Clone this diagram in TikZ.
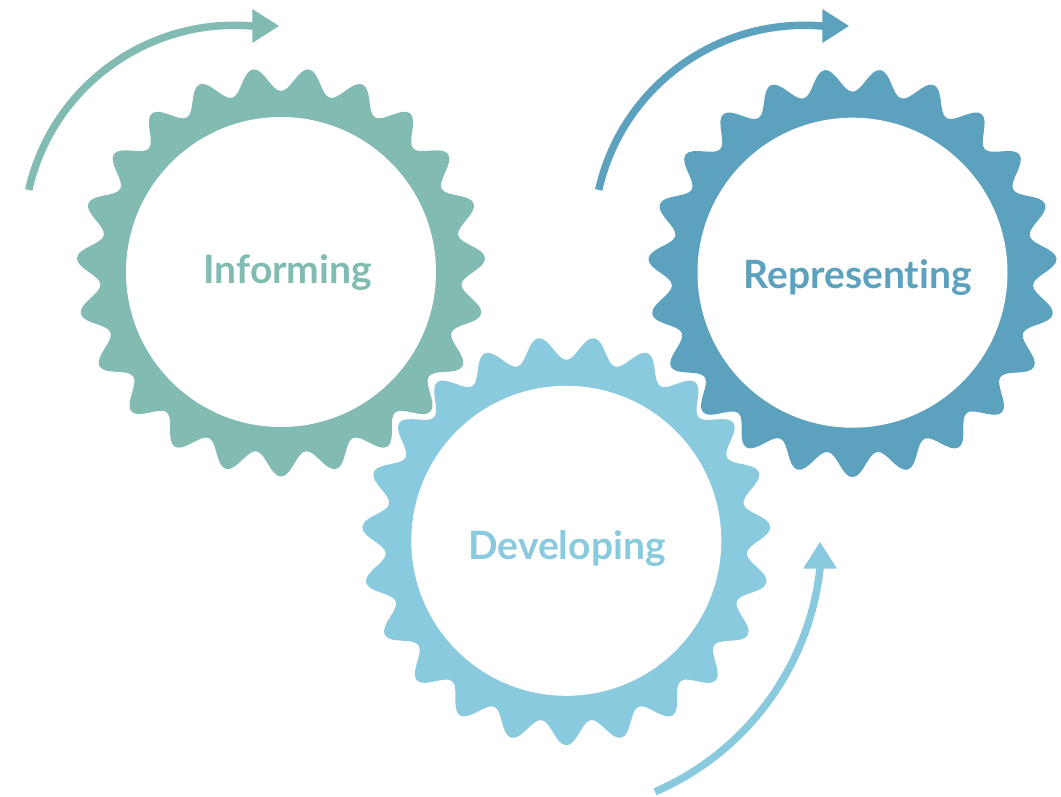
\documentclass[tikz,border=0pt]{standalone}
\usepackage{fontspec}
\setmainfont{Lato}[Ligatures=NoCommon]
\usetikzlibrary{calc,arrows.meta}

\definecolor{informcol}{RGB}{130,187,177}
\definecolor{developcol}{RGB}{138,202,222}
\definecolor{representcol}{RGB}{92,162,191}

\tikzset{
  gearlabel/.style={font=\fontsize{39}{42}\selectfont\bfseries, anchor=base, inner sep=0pt},
  turnarrow/.style={line width=7.5pt, -{Triangle[length=27pt,width=32pt]}},
}

% gear with 23 teeth round a named centre
\newcommand{\drawgear}[2]{%
  \begin{scope}[shift={(#1)}]
    \fill[#2] ({90-360/46}:181)
      \foreach \k [evaluate=\k as \c using 90+\k*360/23] in {0,...,22} {
        .. controls ({\c-4.9}:181) and ({\c-3}:204.5) .. (\c:204.5)
        .. controls ({\c+3}:204.5) and ({\c+4.9}:181) .. ({\c+360/46}:181)
      } -- cycle;
    \fill[white] (0,0) circle[radius=155];
  \end{scope}}

\begin{document}
\begin{tikzpicture}[x=1pt,y=-1pt]
  \useasboundingbox (0,0) rectangle (1061,797);

  \coordinate (informC) at (281,272);
  \coordinate (developC) at (566.3,540.8);
  \coordinate (representC) at (852.5,272.7);

  \drawgear{informC}{informcol}
  \drawgear{representC}{representcol}
  \drawgear{developC}{developcol}

  \node[gearlabel, text=informcol] (inform) at (287.8,283) {Informing};
  \node[gearlabel, text=developcol] (develop) at (567,559.3) {Developing};
  \node[gearlabel, text=representcol] (represent) at (857.7,288.3) {Representing};

  % turning arrows
  \coordinate (informS) at (28.7,189.9);
  \coordinate (informE) at (279.3,26);
  \draw[turnarrow, informcol] (informS) arc[start angle=192.7, end angle=274.7, radius=211] -- (informE);

  \coordinate (representS) at (598.7,189.9);
  \coordinate (representE) at (849.3,26);
  \draw[turnarrow, representcol] (representS) arc[start angle=192.7, end angle=274.7, radius=211] -- (representE);

  \coordinate (developS) at (655,791.8);
  \coordinate (developE) at (820,541.7);
  \draw[turnarrow, developcol] (developS) arc[start angle=66.6, end angle=6.3, radius=276.5] -- (developE);
\end{tikzpicture}
\end{document}
